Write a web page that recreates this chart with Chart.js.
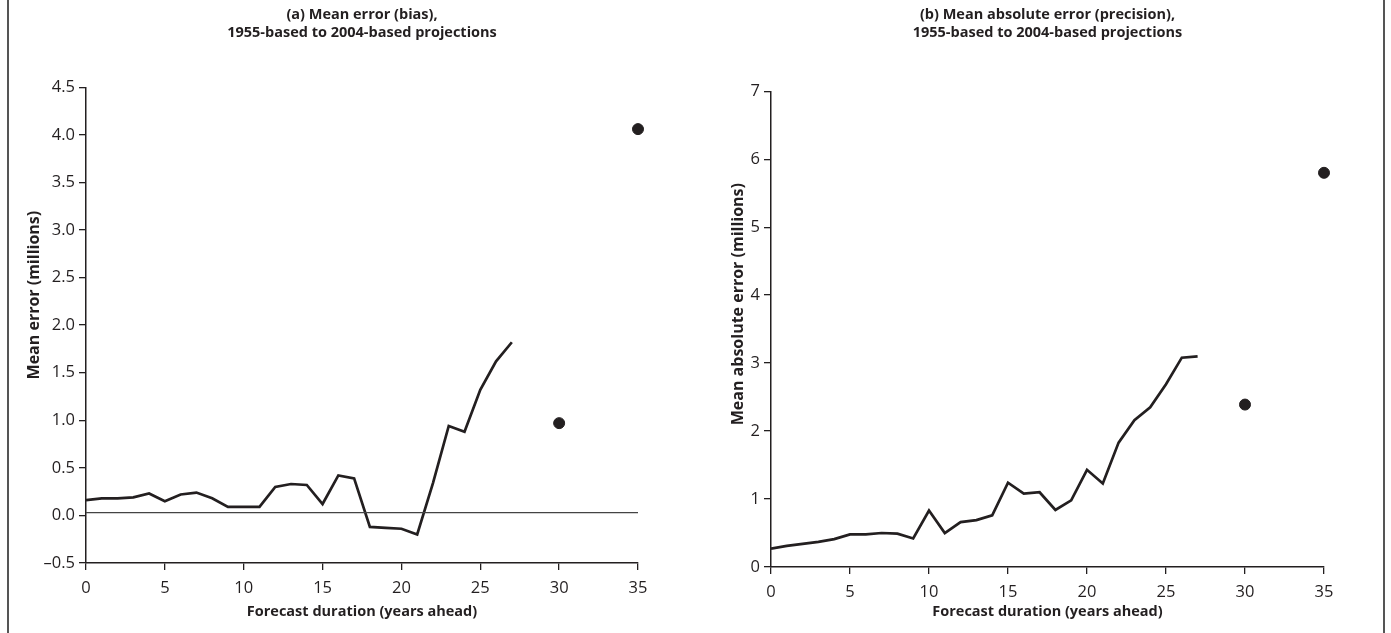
<!DOCTYPE html>
<html>
<head>
<meta charset="utf-8">
<script src="https://cdn.jsdelivr.net/npm/chart.js@4/dist/chart.umd.min.js"></script>
<style>
    body { margin: 0; background: #fff; }
    canvas { position: absolute; top: 0; }
    #biasChart { left: 0; }
    #precisionChart { left: 695px; }
</style>
</head>
<body>
<canvas id="biasChart" width="695" height="633"></canvas>
<canvas id="precisionChart" width="696" height="633"></canvas>
<script>
// Forecast duration (years ahead) for the continuous line
const years = [0, 1, 2, 3, 4, 5, 6, 7, 8, 9, 10, 11, 12, 13, 14, 15, 16, 17, 18, 19, 20, 21, 22, 23, 24, 25, 26, 27];

// (a) Mean error, millions
const meanError = [0.16, 0.18, 0.18, 0.19, 0.23, 0.15, 0.22, 0.24, 0.18, 0.09, 0.09, 0.09, 0.30, 0.33, 0.32, 0.12, 0.42, 0.39, -0.12, -0.13, -0.14, -0.20, 0.34, 0.94, 0.88, 1.32, 1.62, 1.82];

// (b) Mean absolute error, millions
const meanAbsError = [0.27, 0.31, 0.34, 0.37, 0.41, 0.48, 0.48, 0.50, 0.49, 0.42, 0.83, 0.50, 0.66, 0.69, 0.76, 1.24, 1.08, 1.10, 0.84, 0.98, 1.43, 1.23, 1.83, 2.16, 2.35, 2.69, 3.08, 3.10];

// Single points at longer durations
const pointYears = [30, 35];
const meanErrorPoints = [0.97, 4.06];
const meanAbsErrorPoints = [2.39, 5.80];

// Reference line in panel (a)
const baselineYears = [0, 35];
const baselineValues = [0.03, 0.03];

// Tick settings
const xTicks = { min: 0, max: 35, step: 5 };
const biasTicks = { min: -0.5, max: 4.5, step: 0.5 };
const precisionTicks = { min: 0, max: 7, step: 1 };

const INK = '#231f20';
const FONT = "'Open Sans', 'DejaVu Sans', sans-serif";

function toPoints(xs, ys) {
    return xs.map((x, i) => ({ x: x, y: ys[i] }));
}

// Frame line at the figure edge plus the rotated y-axis title
function decorPlugin(xPos, yTitle, titleX, shiftUp) {
    return {
        id: 'decor',
        afterDraw(chart) {
            const ctx = chart.ctx;
            const area = chart.chartArea;
            ctx.save();
            ctx.strokeStyle = '#555';
            ctx.lineWidth = 2;
            ctx.beginPath();
            ctx.moveTo(xPos, 0);
            ctx.lineTo(xPos, chart.height);
            ctx.stroke();

            ctx.translate(titleX, (area.top + area.bottom) / 2 - shiftUp);
            ctx.rotate(-Math.PI / 2);
            ctx.fillStyle = INK;
            ctx.font = "bold 16px " + FONT;
            ctx.textAlign = 'center';
            ctx.textBaseline = 'middle';
            ctx.fillText(yTitle, 0, 0);
            ctx.restore();
        }
    };
}

function buildChart(canvasId, opts) {
    const datasets = [];
    if (opts.baseline) {
        datasets.push({
            data: toPoints(baselineYears, baselineValues),
            borderColor: '#444',
            borderWidth: 1.3,
            pointRadius: 0,
            showLine: true
        });
    }
    datasets.push({
        data: toPoints(years, opts.series),
        borderColor: INK,
        borderWidth: 2.7,
        pointRadius: 0,
        tension: 0,
        showLine: true
    });
    datasets.push({
        data: toPoints(pointYears, opts.points),
        backgroundColor: INK,
        borderColor: INK,
        pointRadius: 5.5,
        showLine: false,
        clip: false
    });

    return new Chart(document.getElementById(canvasId), {
        type: 'scatter',
        data: { datasets: datasets },
        options: {
            responsive: false,
            animation: false,
            devicePixelRatio: 1,
            layout: { padding: { left: 0, right: opts.padRight, top: 0, bottom: 0 } },
            plugins: {
                legend: { display: false },
                tooltip: { enabled: false },
                title: {
                    display: true,
                    text: opts.title,
                    fullSize: false,
                    color: INK,
                    font: { family: FONT, size: 14.5, weight: 'bold', lineHeight: 1.25 },
                    padding: { top: 6, bottom: opts.titleGap }
                }
            },
            scales: {
                x: {
                    type: 'linear',
                    min: xTicks.min,
                    max: xTicks.max,
                    afterFit: s => { s.height = opts.xHeight; },
                    ticks: {
                        stepSize: xTicks.step,
                        color: INK,
                        padding: 8,
                        font: { family: FONT, size: 16.5 }
                    },
                    grid: { drawOnChartArea: false, drawTicks: true, tickLength: 7, color: INK, lineWidth: 1.3 },
                    border: { color: INK, width: 1.5 },
                    title: {
                        display: true,
                        text: 'Forecast duration (years ahead)',
                        color: INK,
                        font: { family: FONT, size: 14.5, weight: 'bold' },
                        padding: { top: 0, bottom: 12 }
                    }
                },
                y: {
                    min: opts.yTicks.min,
                    max: opts.yTicks.max,
                    afterFit: s => { s.width = opts.yWidth; },
                    ticks: {
                        stepSize: opts.yTicks.step,
                        color: INK,
                        padding: 4,
                        font: { family: FONT, size: 16.5 },
                        callback: opts.tickFormat
                    },
                    grid: { drawOnChartArea: false, drawTicks: true, tickLength: 7, color: INK, lineWidth: 1.3 },
                    border: { color: INK, width: 1.5 }
                }
            }
        },
        plugins: [decorPlugin(opts.frameX, opts.yTitle, opts.yTitleX, opts.yTitleShift)]
    });
}

document.addEventListener('DOMContentLoaded', function() {
    buildChart('biasChart', {
        title: ['(a) Mean error (bias),', '1955-based to 2004-based projections'],
        yTitle: 'Mean error (millions)',
        yTitleX: 34,
        yTitleShift: 30,
        series: meanError,
        points: meanErrorPoints,
        baseline: true,
        yTicks: biasTicks,
        tickFormat: v => (v < 0 ? '\u2013' : '') + Math.abs(v).toFixed(1),
        yWidth: 86,
        padRight: 57,
        titleGap: 45,
        xHeight: 70,
        frameX: 8
    });

    buildChart('precisionChart', {
        title: ['(b) Mean absolute error (precision),', '1955-based to 2004-based projections'],
        yTitle: 'Mean absolute error (millions)',
        yTitleX: 43,
        yTitleShift: 25,
        series: meanAbsError,
        points: meanAbsErrorPoints,
        baseline: false,
        yTicks: precisionTicks,
        tickFormat: v => v.toString(),
        yWidth: 76,
        padRight: 67,
        titleGap: 49,
        xHeight: 66,
        frameX: 689
    });
});
</script>
</body>
</html>
